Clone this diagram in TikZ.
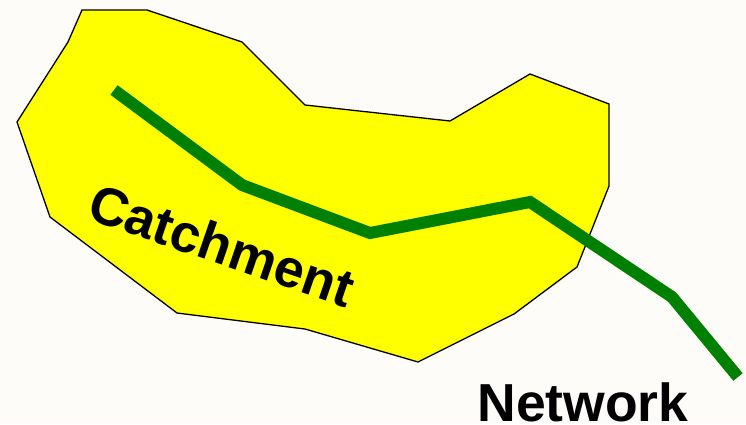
\documentclass[tikz,border=0pt]{standalone}
\usepackage{fontspec}
\setmainfont{Liberation Sans}
\definecolor{bgcol}{RGB}{253,252,248}
\definecolor{netgreen}{RGB}{0,128,0}
\definecolor{catyellow}{RGB}{255,255,0}
\tikzset{
  catchment/.style={fill=catyellow, draw=black, line width=1.3pt, line join=miter},
  network/.style={draw=netgreen, line width=12pt, line join=miter, line cap=butt},
  lbl/.style={font=\fontsize{53.5}{54}\selectfont\bfseries, inner sep=0pt, text=black}
}
\begin{document}
\begin{tikzpicture}[x=1pt,y=-1pt]
\fill[bgcol] (0,0) rectangle (746,424);
\useasboundingbox (0,0) rectangle (746,424);
\draw[catchment] (82,10) -- (147,10) -- (242,42) -- (305,105) -- (450,121) -- (530,74) -- (609,104) -- (609,186) -- (577,267) -- (514,314) -- (418,362) -- (305,329) -- (177,313) -- (50,217) -- (17,122) -- (68,42) -- cycle;
\coordinate (n1) at (114,90);
\coordinate (n2) at (242,185);
\coordinate (n3) at (370,233);
\coordinate (n4) at (530,202);
\coordinate (n5) at (672,297);
\coordinate (n6) at (738,377);
\draw[network] (n1) -- (n2) -- (n3) -- (n4) -- (n5) -- (n6);
\node[lbl, rotate=-19] (catch) at (222,245) {Catchment};
\node[lbl, anchor=base] (net) at (583,421) {Network};
\end{tikzpicture}
\end{document}
